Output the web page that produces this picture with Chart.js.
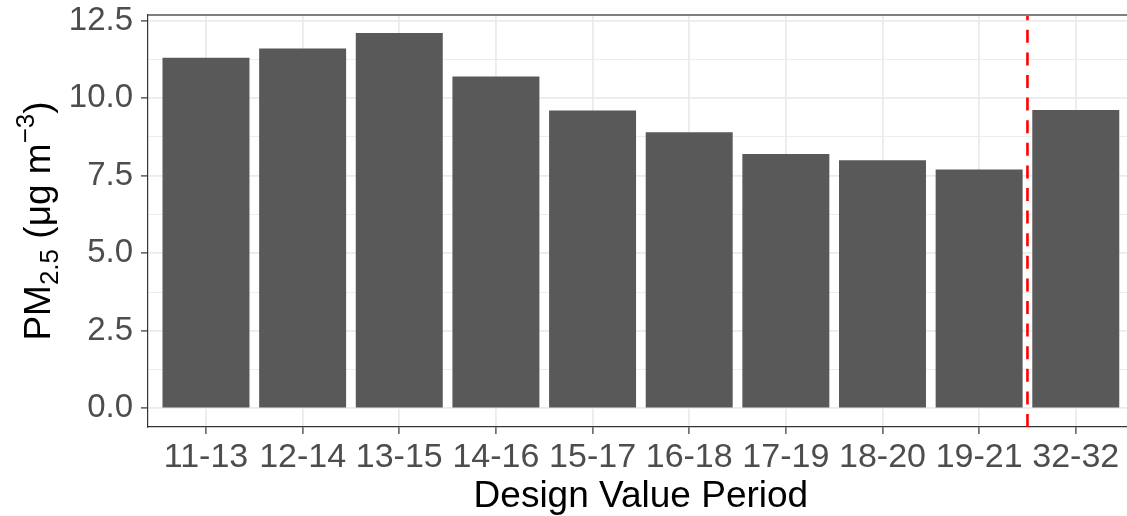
<!DOCTYPE html>
<html><head><meta charset="utf-8">
<script src="https://cdn.jsdelivr.net/npm/chart.js@4/dist/chart.umd.min.js"></script>
<style>html,body{margin:0;padding:0;background:#fff;overflow:hidden}#wrap{width:1127px;height:516px;position:relative}</style>
</head><body><div id="wrap"><canvas id="c" width="1127" height="516"></canvas></div>
<script>
// ---- data ----
const categories = ['11-13','12-14','13-15','14-16','15-17','16-18','17-19','18-20','19-21','32-32'];
const pm25 = [11.3, 11.6, 12.1, 10.7, 9.6, 8.9, 8.2, 8.0, 7.7, 9.62];
const yMajorTicks = [0, 2.5, 5, 7.5, 10, 12.5];
const yMinorTicks = [1.25, 3.75, 6.25, 8.75, 11.25];
const cutoffPosition = 8.5; // between "19-21" (index 8) and "32-32" (index 9)
const xTitle = 'Design Value Period';
const yTitleParts = [
  {text: 'PM'}, {text: '2.5', sub: true}, {text: ' (μg m'}, {text: '−3', sup: true}, {text: ')'}
];

// ---- style ----
const FONT = '"Liberation Sans", Arial, Helvetica, sans-serif';
const XTICK_SIZE = 34, YTICK_SIZE = 33, TITLE_SIZE = 37;
const isMajorY = v => yMajorTicks.some(m => Math.abs(m - v) < 1e-9);

const annot = {
  id: 'annot',
  afterDatasetsDraw(chart) {
    const {ctx, chartArea: a, scales: {x}} = chart;
    const px = x.getPixelForValue(cutoffPosition);
    ctx.save();
    ctx.strokeStyle = '#ff0000'; ctx.lineWidth = 2.6; ctx.setLineDash([13, 9.6]);
    ctx.beginPath(); ctx.moveTo(px, a.bottom); ctx.lineTo(px, a.top); ctx.stroke();
    ctx.restore();
  },
  afterDraw(chart) {
    const {ctx, chartArea: a, scales: {x}} = chart;
    ctx.save();
    // top panel border
    ctx.strokeStyle = '#7f7f7f'; ctx.lineWidth = 2;
    ctx.beginPath(); ctx.moveTo(a.left, a.top); ctx.lineTo(a.right, a.top); ctx.stroke();
    // x title, centred on the (expanded) panel
    ctx.fillStyle = '#000'; ctx.textAlign = 'center'; ctx.textBaseline = 'alphabetic';
    ctx.font = TITLE_SIZE + 'px ' + FONT;
    const cx = x.getPixelForValue((categories.length - 1) / 2);
    ctx.fillText(xTitle, cx, 507);
    // y title with sub/superscript
    const small = Math.round(TITLE_SIZE * 0.7);
    const widths = yTitleParts.map(p => {
      ctx.font = (p.sub || p.sup ? small : TITLE_SIZE) + 'px ' + FONT;
      return ctx.measureText(p.text).width;
    });
    const total = widths.reduce((s, w) => s + w, 0);
    const cy = (a.top + a.bottom) / 2;
    ctx.translate(50, cy);
    ctx.rotate(-Math.PI / 2);
    ctx.textAlign = 'left';
    let pos = -total / 2;
    yTitleParts.forEach((p, i) => {
      ctx.font = (p.sub || p.sup ? small : TITLE_SIZE) + 'px ' + FONT;
      const dy = p.sub ? TITLE_SIZE * 0.22 : (p.sup ? -TITLE_SIZE * 0.42 : 0);
      ctx.fillText(p.text, pos, dy);
      pos += widths[i];
    });
    ctx.restore();
  }
};

new Chart(document.getElementById('c'), {
  type: 'bar',
  data: {
    datasets: [{
      data: categories.map((c, i) => ({x: i, y: pm25[i]})),
      backgroundColor: '#595959',
      borderWidth: 0,
      barPercentage: 0.9,
      categoryPercentage: 1.0
    }]
  },
  options: {
    responsive: false,
    devicePixelRatio: 1,
    animation: false,
    layout: {padding: {top: 15, right: 0, bottom: 0, left: 0}},
    plugins: {legend: {display: false}, tooltip: {enabled: false}},
    scales: {
      x: {
        type: 'linear', min: -0.6, max: 9.53, bounds: 'data', offset: false,
        afterBuildTicks: s => { s.ticks = categories.map((c, i) => ({value: i})); },
        afterFit: s => { s.height = 89; s.paddingLeft = 0; s.paddingRight = 0; },
        ticks: {
          callback: v => categories[v] ?? '',
          font: {family: FONT, size: XTICK_SIZE}, color: '#4d4d4d',
          padding: 3, maxRotation: 0, autoSkip: false
        },
        grid: {offset: false, color: '#ebebeb', lineWidth: 1.8, tickColor: '#333333', tickWidth: 1.2, tickLength: 7},
        border: {display: true, color: '#333333', width: 1.2}
      },
      y: {
        type: 'linear', min: -0.6, max: 12.68, bounds: 'data',
        afterBuildTicks: s => {
          s.ticks = [...yMajorTicks, ...yMinorTicks].sort((a, b) => a - b).map(v => ({value: v}));
        },
        afterFit: s => { s.width = 148; s.paddingTop = 0; s.paddingBottom = 0; },
        ticks: {
          callback: v => isMajorY(v) ? v.toFixed(1) : '',
          font: {family: FONT, size: YTICK_SIZE}, color: '#4d4d4d', padding: 8, autoSkip: false
        },
        grid: {
          color: '#ebebeb',
          lineWidth: c => (c.tick && isMajorY(c.tick.value)) ? 1.8 : 0.9,
          tickColor: c => (c.tick && isMajorY(c.tick.value)) ? '#333333' : 'rgba(0,0,0,0)',
          tickWidth: 1.2, tickLength: 7
        },
        border: {display: true, color: '#333333', width: 1.2}
      }
    }
  },
  plugins: [annot]
});
</script>
</body></html>
